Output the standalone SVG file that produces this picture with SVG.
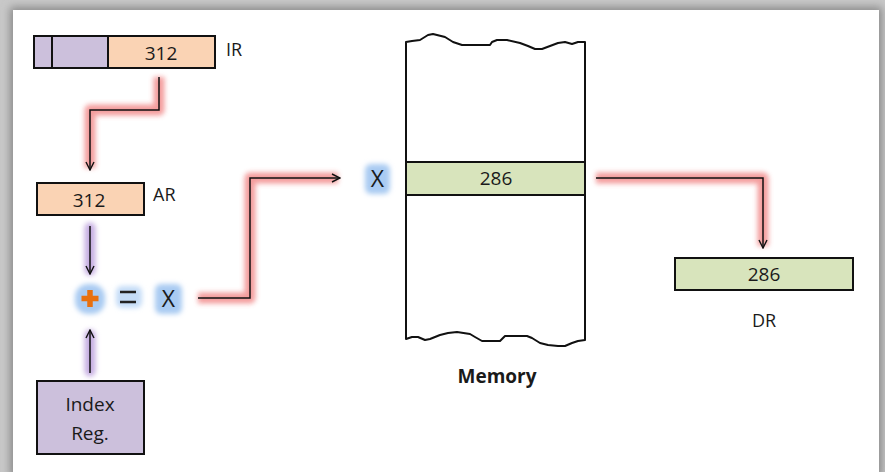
<svg xmlns="http://www.w3.org/2000/svg" width="885" height="472" viewBox="0 0 885 472">
<defs>
<filter id="blur" filterUnits="userSpaceOnUse" x="0" y="0" width="885" height="472"><feGaussianBlur stdDeviation="2.5"/></filter>
<filter id="shadow" x="-5%" y="-5%" width="110%" height="110%"><feGaussianBlur stdDeviation="4"/></filter>
<marker id="arr" viewBox="0 0 10 10" refX="9" refY="5" markerWidth="10" markerHeight="10" markerUnits="userSpaceOnUse" orient="auto"><path d="M1,1 L9,5 L1,9" fill="none" stroke="#111" stroke-width="1.4"/></marker>
</defs>
<style>
text{font-family:"Open Sans","Liberation Sans",sans-serif;fill:#1a1a1a}
.box{stroke:#111;stroke-width:2}
.num{font-size:19px;text-anchor:middle}
.lbl{font-size:18px}
.glowP{fill:none;stroke:#f28c8c;stroke-width:11;filter:url(#blur);stroke-linejoin:round;opacity:0.85}
.glowV{fill:none;stroke:#c6aee2;stroke-width:11;filter:url(#blur);stroke-linecap:round}
.line{fill:none;stroke:#111;stroke-width:1.5;marker-end:url(#arr)}
</style>
<rect width="885" height="472" fill="#c8c8c8"/>
<rect x="10" y="7" width="872" height="470" fill="#8a8a8a" filter="url(#shadow)"/>
<rect x="13" y="10" width="866" height="462" fill="#fff"/>

<g id="connectors">
<path class="glowP" d="M159,77 V110 H90 V168"/>
<path class="line" d="M159,77 V110 H90 V170"/>
<path class="glowV" d="M90,228 V270"/>
<path class="line" d="M90,226 V274"/>
<path class="glowV" d="M90,371 V335"/>
<path class="line" d="M90,373 V330"/>
<path class="glowP" d="M198,298 H250 V178 H338"/>
<path class="line" d="M198,298 H250 V178 H340"/>
<path class="glowP" d="M596,178 H763 V246"/>
<path class="line" d="M596,178 H763 V248"/>
</g>

<g id="IR">
<rect class="box" x="34" y="36" width="74" height="32" fill="#ccc0dc"/>
<rect class="box" x="108" y="36" width="107" height="32" fill="#fad3b4"/>
<line x1="52" y1="36" x2="52" y2="68" stroke="#111" stroke-width="2"/>
<text class="num" x="161" y="60">312</text>
<text class="lbl" x="226" y="56">IR</text>
</g>

<g id="AR">
<rect class="box" x="37" y="183" width="107" height="32" fill="#fad3b4"/>
<text class="num" x="89" y="207">312</text>
<text class="lbl" x="153" y="201">AR</text>
</g>

<g id="sum">
<rect x="75" y="284" width="30" height="30" rx="13" fill="#a9cbf2" filter="url(#blur)"/>
<path d="M90,290 V307 M81.5,298.5 H98.5" stroke="#e8700f" stroke-width="5.5"/>
<rect x="116" y="286" width="26" height="22" rx="6" fill="#c4dcf7" filter="url(#blur)"/>
<path d="M120,292 H136 M120,302 H136" stroke="#222" stroke-width="2.5"/>
<rect x="155" y="284" width="27" height="30" rx="6" fill="#a9cbf2" filter="url(#blur)"/>
<text x="168.5" y="307" font-size="23" text-anchor="middle">X</text>
</g>

<g id="IndexReg">
<rect class="box" x="37" y="381" width="107" height="73" fill="#ccc0dc"/>
<text class="num" x="90" y="411">Index</text>
<text class="num" x="90" y="440">Reg.</text>
</g>

<g id="X">
<rect x="365" y="164" width="25" height="30" rx="6" fill="#a9cbf2" filter="url(#blur)"/>
<text x="377.5" y="187" font-size="23" text-anchor="middle">X</text>
</g>

<g id="Memory">
<path d="M406,42 L412,41 L420,40 L428,35 L433,34 L445,37 L453,42 L462,45 L478,45 L490,45 L492,42 L497,40 L507,40 L520,43 L528,46 L535,49 L542,49 L550,46 L558,43 L565,42 L572,44 L578,42 L585,42 L585,340 L578,341 L572,343 L565,346 L558,346 L548,345 L540,343 L532,338 L527,336 L505,336 L500,341 L482,341 L475,337 L470,334 L457,332 L448,333 L440,335 L430,339 L425,340 L418,337 L412,337 L406,339 Z" fill="#fff" stroke="#111" stroke-width="2" stroke-linejoin="round"/>
<rect class="box" x="406" y="162" width="179" height="33" fill="#d8e4bc"/>
<text class="num" x="496" y="185">286</text>
<text x="497" y="383" font-size="19" font-weight="bold" text-anchor="middle">Memory</text>
</g>

<g id="DR">
<rect class="box" x="675" y="258" width="178" height="32" fill="#d8e4bc"/>
<text class="num" x="764" y="281">286</text>
<text class="lbl" x="764" y="327" text-anchor="middle">DR</text>
</g>
</svg>
